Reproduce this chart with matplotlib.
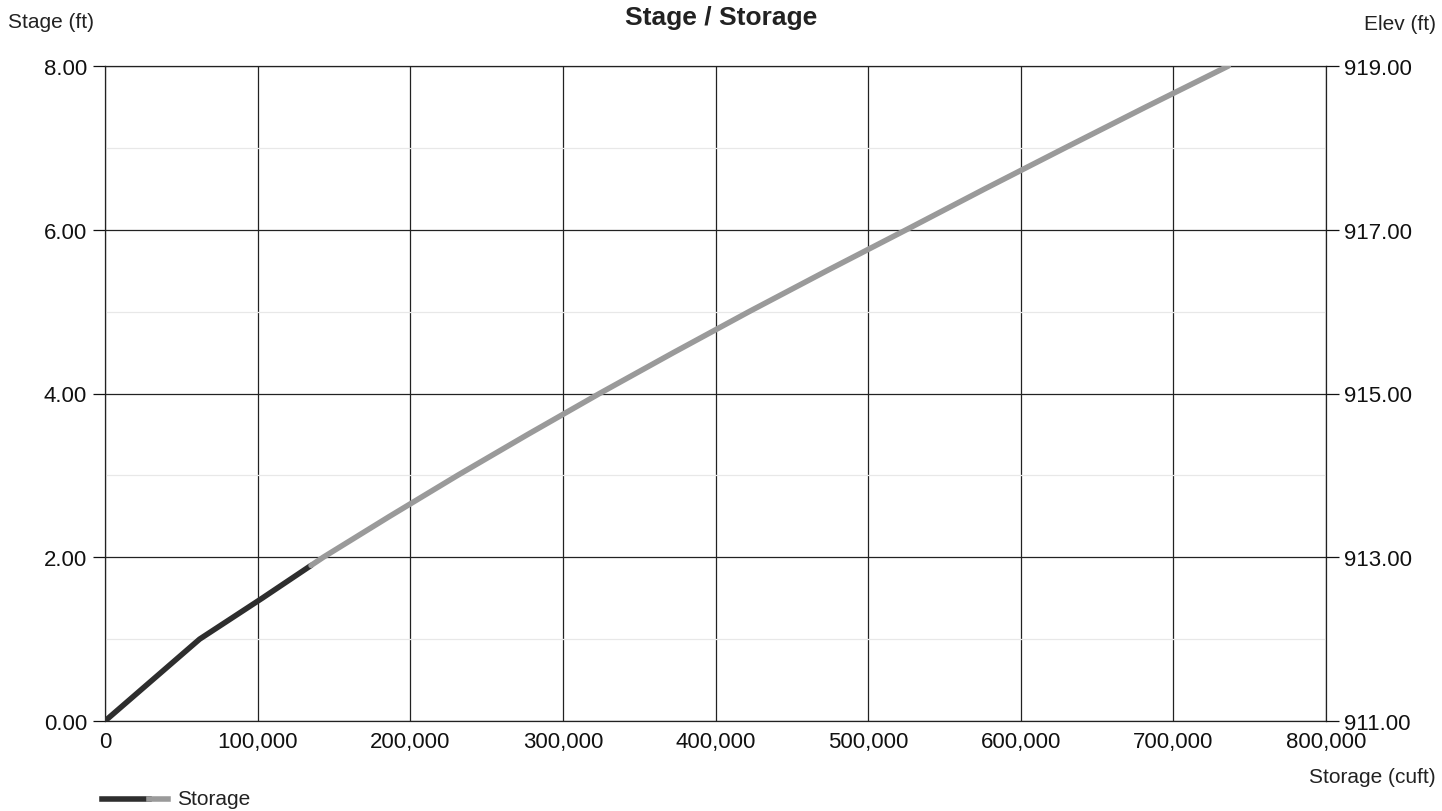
import matplotlib.pyplot as plt
from matplotlib.ticker import FuncFormatter

plt.rcParams['font.family'] = ['Liberation Sans', 'DejaVu Sans']

# Stage / storage table
stage = [0.0, 0.5, 1.0, 1.5, 1.9, 2.0, 2.5, 3.0, 3.5, 4.0, 4.5, 5.0, 5.5,
         6.0, 6.5, 7.0, 7.5, 8.0]
storage = [0, 31000, 62000, 103000, 135000, 143000, 186500, 231000, 277000,
           324000, 372500, 422000, 473000, 525000, 576500, 629000, 682000,
           736000]
split = 4  # index where the line changes shade

x_ticks = [0, 100000, 200000, 300000, 400000, 500000, 600000, 700000, 800000]
y_ticks = [0, 2, 4, 6, 8]
y_minor = [1, 3, 5, 7]
elev_ticks = [911, 913, 915, 917, 919]

fig = plt.figure(figsize=(14.42, 8.12), dpi=100)
ax = fig.add_axes([105 / 1442, 1 - 722 / 812, (1326 - 105) / 1442, (722 - 67) / 812])

ax.set_xlim(0, 800000)
ax.set_ylim(0, 8)
ax.set_xticks(x_ticks)
ax.set_yticks(y_ticks)
ax.set_yticks(y_minor, minor=True)
ax.xaxis.set_major_formatter(FuncFormatter(lambda v, p: f'{int(v):,}'))
ax.yaxis.set_major_formatter(FuncFormatter(lambda v, p: f'{v:.2f}'))

ax.grid(True, which='major', color='#222222', linewidth=0.9)
ax.grid(True, which='minor', axis='y', color='#e8e8e8', linewidth=0.9)
ax.set_axisbelow(True)
ax.tick_params(axis='x', length=0, labelsize=16, pad=7, colors='#111111')
ax.tick_params(axis='y', which='major', direction='out', length=9, width=0.9,
               labelsize=16, pad=4, colors='#111111')
ax.tick_params(axis='y', which='minor', length=0)
for s in ax.spines.values():
    s.set_color('#222222')
    s.set_linewidth(0.9)

ax.plot(storage[:split + 1], stage[:split + 1], color='#2e2e2e', linewidth=4,
        solid_capstyle='round', solid_joinstyle='round', zorder=3)
ax.plot(storage[split:], stage[split:], color='#9a9a9a', linewidth=4,
        solid_capstyle='round', solid_joinstyle='round', zorder=3)

ax2 = ax.twinx()
ax2.set_ylim(911, 919)
ax2.set_yticks(elev_ticks)
ax2.yaxis.set_major_formatter(FuncFormatter(lambda v, p: f'{v:.2f}'))
ax2.tick_params(axis='y', direction='out', length=9, width=0.9, labelsize=16,
                pad=4, colors='#111111')
for s in ax2.spines.values():
    s.set_visible(False)

fig.text(0.5, 1 - 18 / 812, 'Stage / Storage', ha='center', va='center',
         fontsize=19, fontweight='bold', color='#222222')
fig.text(8 / 1442, 1 - 22 / 812, 'Stage (ft)', ha='left', va='center',
         fontsize=15, color='#222222')
fig.text(1436 / 1442, 1 - 25 / 812, 'Elev (ft)', ha='right', va='center',
         fontsize=15, color='#222222')
fig.text(1436 / 1442, 1 - 778 / 812, 'Storage (cuft)', ha='right', va='center',
         fontsize=15, color='#222222')

# legend sample
fig.lines.append(plt.Line2D([102 / 1442, 149 / 1442], [1 - 800 / 812] * 2,
                            transform=fig.transFigure, color='#2e2e2e', linewidth=4))
fig.lines.append(plt.Line2D([149 / 1442, 168 / 1442], [1 - 800 / 812] * 2,
                            transform=fig.transFigure, color='#9a9a9a', linewidth=4))
fig.text(177 / 1442, 1 - 800 / 812, 'Storage', ha='left', va='center',
         fontsize=15, color='#222222')

fig.savefig('out.png', dpi=100)
